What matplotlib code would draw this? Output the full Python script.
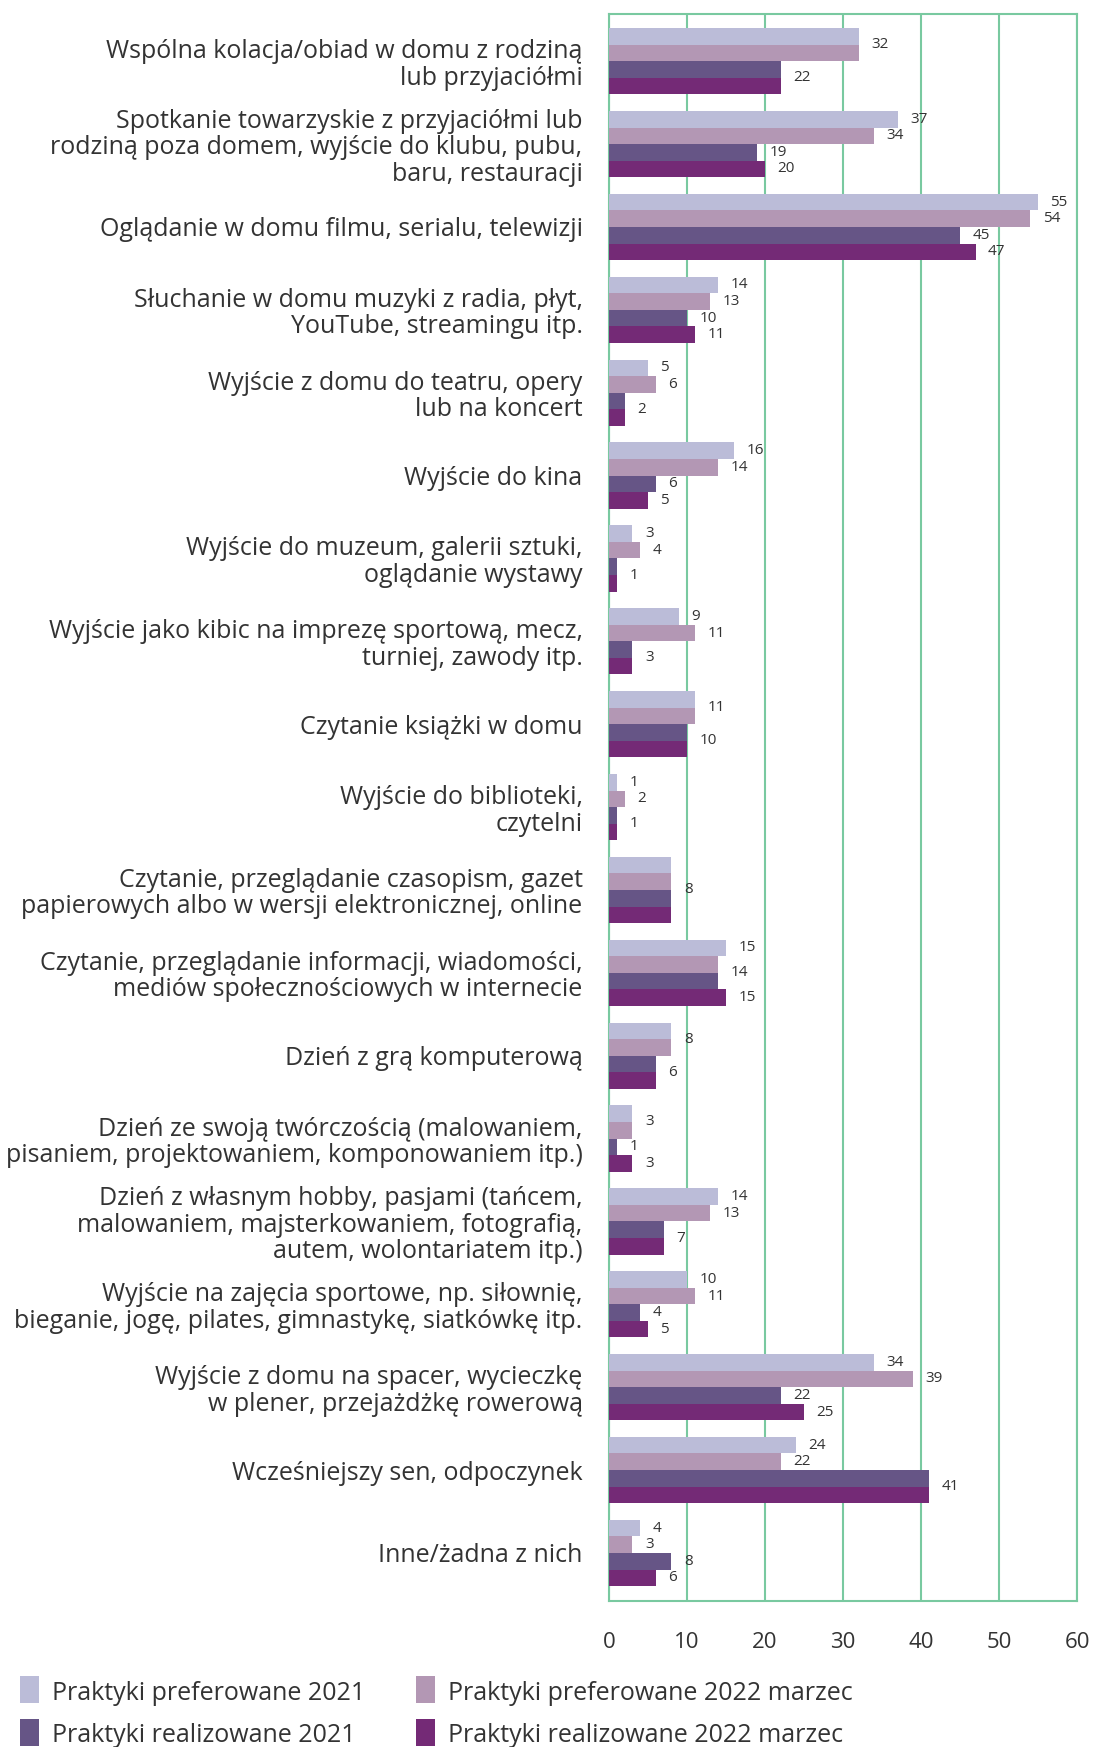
import numpy as np
import matplotlib
matplotlib.use("Agg")
import matplotlib.pyplot as plt
from matplotlib.patches import Rectangle

plt.rcParams['font.family'] = ['Open Sans', 'DejaVu Sans']

categories = [
    "Wspólna kolacja/obiad w domu z rodziną\nlub przyjaciółmi",
    "Spotkanie towarzyskie z przyjaciółmi lub\nrodziną poza domem, wyjście do klubu, pubu,\nbaru, restauracji",
    "Oglądanie w domu filmu, serialu, telewizji",
    "Słuchanie w domu muzyki z radia, płyt,\nYouTube, streamingu itp.",
    "Wyjście z domu do teatru, opery\nlub na koncert",
    "Wyjście do kina",
    "Wyjście do muzeum, galerii sztuki,\noglądanie wystawy",
    "Wyjście jako kibic na imprezę sportową, mecz,\nturniej, zawody itp.",
    "Czytanie książki w domu",
    "Wyjście do biblioteki,\nczytelni",
    "Czytanie, przeglądanie czasopism, gazet\npapierowych albo w wersji elektronicznej, online",
    "Czytanie, przeglądanie informacji, wiadomości,\nmediów społecznościowych w internecie",
    "Dzień z grą komputerową",
    "Dzień ze swoją twórczością (malowaniem,\npisaniem, projektowaniem, komponowaniem itp.)",
    "Dzień z własnym hobby, pasjami (tańcem,\nmalowaniem, majsterkowaniem, fotografią,\nautem, wolontariatem itp.)",
    "Wyjście na zajęcia sportowe, np. siłownię,\nbieganie, jogę, pilates, gimnastykę, siatkówkę itp.",
    "Wyjście z domu na spacer, wycieczkę\nw plener, przejażdżkę rowerową",
    "Wcześniejszy sen, odpoczynek",
    "Inne/żadna z nich",
]

pref_2021 = [32, 37, 55, 14, 5, 16, 3, 9, 11, 1, 8, 15, 8, 3, 14, 10, 34, 24, 4]
pref_2022 = [32, 34, 54, 13, 6, 14, 4, 11, 11, 2, 8, 14, 8, 3, 13, 11, 39, 22, 3]
real_2021 = [22, 19, 45, 10, 2, 6, 1, 3, 10, 1, 8, 14, 6, 1, 7, 4, 22, 41, 8]
real_2022 = [22, 20, 47, 11, 2, 5, 1, 3, 10, 1, 8, 15, 6, 3, 7, 5, 25, 41, 6]

series_names = ["Praktyki preferowane 2021", "Praktyki preferowane 2022 marzec",
                "Praktyki realizowane 2021", "Praktyki realizowane 2022 marzec"]
colors = ["#BBBCD8", "#B397B4", "#665586", "#742A76"]
x_ticks = [0, 10, 20, 30, 40, 50, 60]

green = "#79C9A0"
txt = "#333333"
W, H = 1093, 1747

fig = plt.figure(figsize=(W / 100, H / 100), dpi=100)
ax = fig.add_axes([609 / W, 1 - 1601 / H, 468 / W, 1587 / H])

series = [pref_2021, pref_2022, real_2021, real_2022]
h = 0.2
y = np.arange(len(categories))
offsets = [-1.5 * h, -0.5 * h, 0.5 * h, 1.5 * h]
for vals, col, off in zip(series, colors, offsets):
    ax.barh(y + off, vals, height=h, color=col, zorder=3)

# value labels: equal neighbouring bars share one label
for i in range(len(categories)):
    vals = [s[i] for s in series]
    j = 0
    while j < 4:
        k = j
        while k + 1 < 4 and vals[k + 1] == vals[j]:
            k += 1
        yc = i + (offsets[j] + offsets[k]) / 2
        ax.annotate(str(vals[j]), (vals[j], yc), xytext=(9, 0), textcoords='offset points',
                    ha='left', va='center', fontsize=11, color=txt, zorder=4)
        j = k + 1

ax.set_xlim(0, 60)
ax.set_ylim(len(categories) - 1 + 0.58, -0.57)
ax.set_xticks(x_ticks)
ax.set_xticklabels([str(t) for t in x_ticks], fontsize=16, color=txt)
ax.set_yticks(y)
ax.set_yticklabels(categories, fontsize=18, color=txt, linespacing=1.08)
ax.tick_params(axis='both', length=0)
ax.tick_params(axis='x', pad=22)
ax.tick_params(axis='y', pad=19)
ax.grid(axis='x', color=green, linewidth=1.5, zorder=1)
for sp in ax.spines.values():
    sp.set_color(green)
    sp.set_linewidth(1.5)

# legend, two columns drawn in figure pixels
leg_x = [20, 416]
leg_y = [1676, 1719]
for n, (name, col) in enumerate(zip(series_names, colors)):
    cx = leg_x[n % 2]
    cy = leg_y[n // 2]
    fig.patches.append(Rectangle((cx / W, 1 - (cy + 27) / H), 19 / W, 27 / H,
                                 transform=fig.transFigure, facecolor=col, edgecolor='none'))
    fig.text((cx + 32) / W, 1 - (cy + 17) / H, name, fontsize=18, color=txt,
             ha='left', va='center')

fig.savefig("out.png", dpi=100)
